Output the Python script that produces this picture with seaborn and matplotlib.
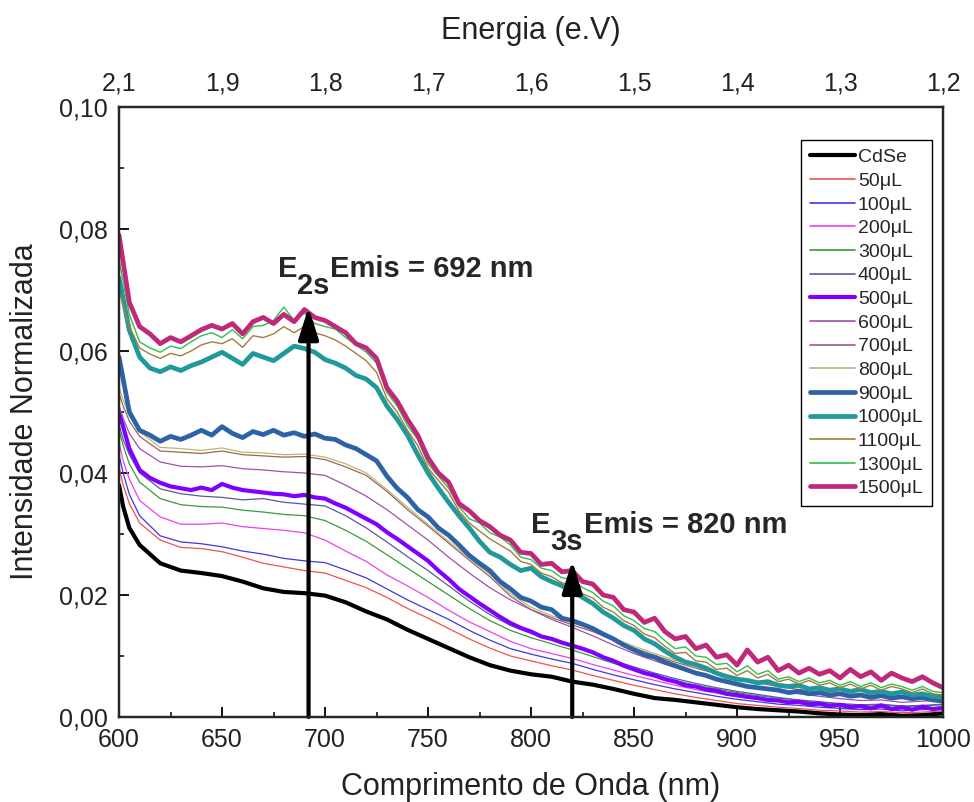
import numpy as np
import pandas as pd
import matplotlib
matplotlib.use("Agg")
import matplotlib.pyplot as plt
from matplotlib.lines import Line2D
import seaborn as sns

# ---------------- data ----------------
# coarse wavelength grid (thin, smoother curves)
wl = [600, 602, 605, 610, 620, 630, 640, 650, 660, 670, 680, 690, 700, 710, 720, 730,
      740, 750, 760, 770, 780, 790, 800, 810, 820, 830, 840, 850, 860, 870, 880, 890,
      900, 910, 920, 930, 940, 950, 960, 970, 980, 990, 1000]
# fine wavelength grid (noisy thick curves), 600..1000 every 5 nm
wl5 = list(range(600, 1001, 5))

series_names = ["CdSe", "50μL", "100μL", "200μL", "300μL", "400μL", "500μL", "600μL",
                "700μL", "800μL", "900μL", "1000μL", "1100μL", "1300μL", "1500μL"]

cdse = [0.0380, 0.0345, 0.0310, 0.0282, 0.0252, 0.0240, 0.0236, 0.0231, 0.0222, 0.0211, 0.0205,
        0.0203, 0.0199, 0.0188, 0.0173, 0.0160, 0.0143, 0.0128, 0.0113, 0.0098, 0.0085, 0.0076,
        0.0070, 0.0066, 0.0058, 0.0053, 0.0046, 0.0038, 0.0031, 0.0028, 0.0024, 0.0020, 0.0016,
        0.0013, 0.0011, 0.0009, 0.0006, 0.0004, 0.0003, 0.0005, 0.0002, 0.0003, 0.0006]
s50 = [0.0410, 0.0380, 0.0350, 0.0318, 0.0290, 0.0278, 0.0276, 0.0271, 0.0262, 0.0252, 0.0246,
       0.0240, 0.0236, 0.0224, 0.0212, 0.0196, 0.0178, 0.0162, 0.0145, 0.0128, 0.0113, 0.0100,
       0.0092, 0.0084, 0.0077, 0.0068, 0.0060, 0.0052, 0.0045, 0.0038, 0.0032, 0.0027, 0.0022,
       0.0019, 0.0016, 0.0014, 0.0011, 0.0010, 0.0008, 0.0009, 0.0007, 0.0008, 0.0010]
s100 = [0.0430, 0.0400, 0.0365, 0.0330, 0.0297, 0.0287, 0.0284, 0.0279, 0.0272, 0.0267, 0.0260,
        0.0256, 0.0253, 0.0241, 0.0228, 0.0210, 0.0192, 0.0176, 0.0160, 0.0142, 0.0126, 0.0112,
        0.0103, 0.0095, 0.0088, 0.0078, 0.0069, 0.0061, 0.0053, 0.0046, 0.0040, 0.0034, 0.0029,
        0.0025, 0.0021, 0.0019, 0.0016, 0.0014, 0.0012, 0.0013, 0.0010, 0.0012, 0.0013]
s200 = [0.0450, 0.0420, 0.0390, 0.0355, 0.0328, 0.0316, 0.0316, 0.0318, 0.0312, 0.0309, 0.0306,
        0.0302, 0.0290, 0.0272, 0.0255, 0.0233, 0.0215, 0.0196, 0.0175, 0.0156, 0.0140, 0.0124,
        0.0112, 0.0104, 0.0096, 0.0086, 0.0077, 0.0068, 0.0060, 0.0052, 0.0045, 0.0039, 0.0033,
        0.0029, 0.0026, 0.0022, 0.0019, 0.0017, 0.0015, 0.0016, 0.0013, 0.0014, 0.0016]
s300 = [0.0470, 0.0445, 0.0415, 0.0385, 0.0358, 0.0348, 0.0345, 0.0344, 0.0339, 0.0336, 0.0332,
        0.0330, 0.0322, 0.0306, 0.0288, 0.0266, 0.0244, 0.0222, 0.0200, 0.0178, 0.0158, 0.0142,
        0.0130, 0.0120, 0.0110, 0.0099, 0.0088, 0.0078, 0.0069, 0.0060, 0.0052, 0.0046, 0.0040,
        0.0035, 0.0031, 0.0027, 0.0024, 0.0021, 0.0019, 0.0020, 0.0017, 0.0018, 0.0020]
s400 = [0.0480, 0.0455, 0.0430, 0.0400, 0.0374, 0.0366, 0.0362, 0.0360, 0.0356, 0.0358, 0.0352,
        0.0349, 0.0346, 0.0330, 0.0310, 0.0287, 0.0263, 0.0240, 0.0215, 0.0190, 0.0168, 0.0150,
        0.0137, 0.0127, 0.0116, 0.0104, 0.0093, 0.0082, 0.0072, 0.0063, 0.0055, 0.0048, 0.0042,
        0.0037, 0.0032, 0.0028, 0.0025, 0.0022, 0.0020, 0.0021, 0.0018, 0.0019, 0.0021]
s500 = [0.0500, 0.0440, 0.0405, 0.0392, 0.0384, 0.0378, 0.0375, 0.0372, 0.0376, 0.0372, 0.0382,
        0.0376, 0.0372, 0.0370, 0.0368, 0.0366, 0.0365, 0.0362, 0.0364, 0.0360, 0.0358, 0.0350,
        0.0343, 0.0334, 0.0325, 0.0316, 0.0303, 0.0292, 0.0280, 0.0268, 0.0256, 0.0240, 0.0226,
        0.0210, 0.0198, 0.0186, 0.0175, 0.0164, 0.0154, 0.0146, 0.0140, 0.0132, 0.0128, 0.0122,
        0.0117, 0.0112, 0.0106, 0.0098, 0.0092, 0.0084, 0.0078, 0.0072, 0.0068, 0.0062, 0.0058,
        0.0052, 0.0050, 0.0045, 0.0043, 0.0038, 0.0036, 0.0033, 0.0031, 0.0028, 0.0027, 0.0024,
        0.0025, 0.0021, 0.0022, 0.0018, 0.0020, 0.0016, 0.0018, 0.0014, 0.0019, 0.0013, 0.0016,
        0.0012, 0.0017, 0.0013, 0.0015]
s600 = [0.0510, 0.0490, 0.0465, 0.0440, 0.0418, 0.0411, 0.0410, 0.0412, 0.0407, 0.0405, 0.0402,
        0.0400, 0.0396, 0.0380, 0.0362, 0.0340, 0.0315, 0.0290, 0.0262, 0.0236, 0.0212, 0.0192,
        0.0176, 0.0160, 0.0147, 0.0133, 0.0118, 0.0104, 0.0092, 0.0081, 0.0071, 0.0062, 0.0054,
        0.0048, 0.0043, 0.0038, 0.0034, 0.0030, 0.0027, 0.0028, 0.0024, 0.0026, 0.0027]
s700 = [0.0530, 0.0510, 0.0485, 0.0460, 0.0436, 0.0434, 0.0432, 0.0436, 0.0430, 0.0428, 0.0426,
        0.0427, 0.0422, 0.0410, 0.0396, 0.0370, 0.0340, 0.0313, 0.0285, 0.0257, 0.0230, 0.0198,
        0.0176, 0.0163, 0.0151, 0.0140, 0.0126, 0.0113, 0.0101, 0.0090, 0.0080, 0.0071, 0.0062,
        0.0056, 0.0050, 0.0045, 0.0041, 0.0037, 0.0034, 0.0035, 0.0031, 0.0033, 0.0034]
s800 = [0.0540, 0.0520, 0.0495, 0.0468, 0.0442, 0.0440, 0.0437, 0.0441, 0.0434, 0.0433, 0.0430,
        0.0431, 0.0426, 0.0415, 0.0400, 0.0373, 0.0344, 0.0316, 0.0288, 0.0260, 0.0234, 0.0202,
        0.0180, 0.0166, 0.0155, 0.0143, 0.0129, 0.0116, 0.0104, 0.0093, 0.0083, 0.0074, 0.0065,
        0.0059, 0.0053, 0.0048, 0.0044, 0.0040, 0.0037, 0.0038, 0.0034, 0.0036, 0.0037]
s900 = [0.0590, 0.0500, 0.0470, 0.0462, 0.0452, 0.0460, 0.0455, 0.0462, 0.0470, 0.0462, 0.0476,
        0.0465, 0.0458, 0.0468, 0.0463, 0.0470, 0.0462, 0.0466, 0.0460, 0.0464, 0.0457, 0.0455,
        0.0446, 0.0440, 0.0430, 0.0420, 0.0395, 0.0375, 0.0360, 0.0340, 0.0328, 0.0310, 0.0298,
        0.0282, 0.0265, 0.0252, 0.0240, 0.0222, 0.0210, 0.0196, 0.0190, 0.0180, 0.0176, 0.0162,
        0.0158, 0.0152, 0.0145, 0.0136, 0.0128, 0.0118, 0.0110, 0.0102, 0.0098, 0.0090, 0.0084,
        0.0078, 0.0072, 0.0068, 0.0062, 0.0058, 0.0054, 0.0050, 0.0048, 0.0046, 0.0044, 0.0040,
        0.0042, 0.0038, 0.0040, 0.0036, 0.0038, 0.0034, 0.0036, 0.0032, 0.0035, 0.0031, 0.0033,
        0.0030, 0.0032, 0.0028, 0.0026]
s1000 = [0.0720, 0.0634, 0.0590, 0.0572, 0.0566, 0.0574, 0.0568, 0.0576, 0.0582, 0.0590, 0.0598,
         0.0588, 0.0578, 0.0596, 0.0590, 0.0584, 0.0596, 0.0608, 0.0604, 0.0598, 0.0586, 0.0580,
         0.0572, 0.0560, 0.0554, 0.0540, 0.0510, 0.0488, 0.0462, 0.0430, 0.0400, 0.0375, 0.0352,
         0.0330, 0.0310, 0.0288, 0.0270, 0.0262, 0.0250, 0.0240, 0.0244, 0.0230, 0.0222, 0.0215,
         0.0206, 0.0196, 0.0186, 0.0172, 0.0162, 0.0150, 0.0142, 0.0128, 0.0120, 0.0108, 0.0098,
         0.0090, 0.0086, 0.0080, 0.0072, 0.0066, 0.0062, 0.0060, 0.0056, 0.0058, 0.0052, 0.0050,
         0.0052, 0.0046, 0.0048, 0.0044, 0.0046, 0.0042, 0.0045, 0.0040, 0.0042, 0.0038, 0.0041,
         0.0036, 0.0038, 0.0034, 0.0032]
s1100 = [0.0700, 0.0640, 0.0605, 0.0595, 0.0588, 0.0596, 0.0592, 0.0600, 0.0610, 0.0615, 0.0612,
         0.0620, 0.0606, 0.0625, 0.0622, 0.0628, 0.0640, 0.0630, 0.0640, 0.0630, 0.0625, 0.0618,
         0.0608, 0.0596, 0.0584, 0.0565, 0.0522, 0.0500, 0.0470, 0.0445, 0.0408, 0.0388, 0.0368,
         0.0338, 0.0318, 0.0305, 0.0292, 0.0282, 0.0272, 0.0255, 0.0250, 0.0236, 0.0230, 0.0220,
         0.0215, 0.0202, 0.0195, 0.0180, 0.0172, 0.0158, 0.0150, 0.0136, 0.0130, 0.0116, 0.0104,
         0.0106, 0.0092, 0.0090, 0.0078, 0.0080, 0.0068, 0.0076, 0.0064, 0.0070, 0.0058, 0.0062,
         0.0054, 0.0060, 0.0052, 0.0056, 0.0048, 0.0054, 0.0046, 0.0052, 0.0044, 0.0050, 0.0046,
         0.0040, 0.0046, 0.0038, 0.0036]
s1300 = [0.0750, 0.0660, 0.0615, 0.0605, 0.0598, 0.0608, 0.0604, 0.0615, 0.0625, 0.0630, 0.0622,
         0.0635, 0.0620, 0.0640, 0.0642, 0.0650, 0.0672, 0.0650, 0.0662, 0.0645, 0.0640, 0.0636,
         0.0622, 0.0610, 0.0598, 0.0580, 0.0532, 0.0510, 0.0478, 0.0455, 0.0415, 0.0395, 0.0375,
         0.0345, 0.0325, 0.0318, 0.0302, 0.0295, 0.0282, 0.0262, 0.0258, 0.0244, 0.0240, 0.0228,
         0.0226, 0.0212, 0.0204, 0.0190, 0.0182, 0.0166, 0.0158, 0.0145, 0.0140, 0.0125, 0.0112,
         0.0115, 0.0100, 0.0098, 0.0086, 0.0088, 0.0074, 0.0084, 0.0070, 0.0076, 0.0062, 0.0066,
         0.0058, 0.0064, 0.0056, 0.0060, 0.0052, 0.0058, 0.0050, 0.0056, 0.0048, 0.0054, 0.0050,
         0.0044, 0.0050, 0.0042, 0.0040]
s1500 = [0.0790, 0.0680, 0.0640, 0.0628, 0.0612, 0.0622, 0.0615, 0.0625, 0.0635, 0.0642, 0.0636,
         0.0645, 0.0628, 0.0648, 0.0655, 0.0645, 0.0660, 0.0648, 0.0668, 0.0655, 0.0650, 0.0640,
         0.0630, 0.0612, 0.0605, 0.0588, 0.0540, 0.0518, 0.0488, 0.0462, 0.0425, 0.0400, 0.0385,
         0.0350, 0.0338, 0.0322, 0.0312, 0.0298, 0.0290, 0.0270, 0.0268, 0.0250, 0.0252, 0.0238,
         0.0240, 0.0222, 0.0218, 0.0200, 0.0196, 0.0176, 0.0172, 0.0155, 0.0162, 0.0140, 0.0128,
         0.0132, 0.0112, 0.0118, 0.0098, 0.0102, 0.0085, 0.0110, 0.0090, 0.0098, 0.0076, 0.0085,
         0.0072, 0.0080, 0.0070, 0.0076, 0.0064, 0.0078, 0.0066, 0.0074, 0.0060, 0.0072, 0.0064,
         0.0058, 0.0066, 0.0056, 0.0048]

series_values = [cdse, s50, s100, s200, s300, s400, s500, s600, s700, s800, s900,
                 s1000, s1100, s1300, s1500]
series_grid = ["c", "c", "c", "c", "c", "c", "f", "c", "c", "c", "f", "f", "f", "f", "f"]

colors = ["#000000", "#f0524f", "#3a3ae0", "#ee40ee", "#3a9a3a", "#5a5a9a", "#8000ff",
          "#a050a8", "#a06060", "#b8b870", "#2d63a6", "#21999a", "#a77b3a", "#2fbf4f",
          "#c0287a"]
widths = [3.0, 0.9, 0.9, 0.9, 0.9, 0.9, 3.0, 0.9, 0.9, 0.9, 3.4, 3.4, 1.0, 1.0, 3.4]

x_ticks = [600, 650, 700, 750, 800, 850, 900, 950, 1000]
top_labels = ["2,1", "1,9", "1,8", "1,7", "1,6", "1,5", "1,4", "1,3", "1,2"]
y_ticks = [0.00, 0.02, 0.04, 0.06, 0.08, 0.10]
y_labels = ["0,00", "0,02", "0,04", "0,06", "0,08", "0,10"]

peak_wl = [692, 820]
peak_tip = [0.0672, 0.0256]
peak_sub = ["2s", "3s"]
peak_text = ["Emis = 692 nm", "Emis = 820 nm"]

# ---------------- build frame ----------------
rows = []
for name, vals, g in zip(series_names, series_values, series_grid):
    xs = wl if g == "c" else wl5
    assert len(xs) == len(vals), name
    for x, y in zip(xs, vals):
        rows.append((name, x, y))
df = pd.DataFrame(rows, columns=["serie", "wl", "val"])

sns.set_style("ticks")
plt.rcParams["font.family"] = ["Liberation Sans", "DejaVu Sans"]

fig = plt.figure(figsize=(9.74, 8.02), dpi=100)
ax = fig.add_axes([0.1222, 0.106, 0.846, 0.7606])

sns.lineplot(data=df, x="wl", y="val", hue="serie", size="serie",
             hue_order=series_names, size_order=series_names,
             palette=dict(zip(series_names, colors)),
             sizes=dict(zip(series_names, widths)),
             estimator=None, sort=False, legend=False, ax=ax)

ax.set_xlim(600, 1000)
ax.set_ylim(0, 0.10)
ax.set_xticks(x_ticks)
ax.set_xticklabels([str(v) for v in x_ticks])
ax.set_yticks(y_ticks)
ax.set_yticklabels(y_labels)
ax.set_xticks(np.arange(625, 1000, 50), minor=True)
ax.set_yticks(np.arange(0.01, 0.10, 0.02), minor=True)
ax.tick_params(axis="both", which="major", direction="in", length=7, width=1.3,
               labelsize=18, pad=8, colors="black", labelcolor="#222222")
ax.tick_params(axis="both", which="minor", direction="in", length=3.5, width=1.3)
for sp in ax.spines.values():
    sp.set_linewidth(1.6)
    sp.set_color("black")
    sp.set_visible(True)

ax.set_xlabel("Comprimento de Onda (nm)", fontsize=22, labelpad=14, color="#222222")
ax.set_ylabel("Intensidade Normalizada", fontsize=22, labelpad=14, color="#222222")

# top energy axis
axt = ax.twiny()
axt.set_xlim(ax.get_xlim())
axt.set_xticks(x_ticks)
axt.set_xticklabels(top_labels)
axt.tick_params(axis="x", length=0, labelsize=18, pad=8, labelcolor="#222222")
axt.set_xlabel("Energia (e.V)", fontsize=22, labelpad=24, color="#222222")
for sp in axt.spines.values():
    sp.set_linewidth(1.6)

# legend
handles = [Line2D([0], [0], color=c, lw=(w if w > 2 else 1.2))
           for c, w in zip(colors, widths)]
leg = ax.legend(handles, series_names, loc="upper right",
                bbox_to_anchor=(0.987, 0.946), borderaxespad=0,
                fontsize=14, labelspacing=0.31, handlelength=2.3,
                handletextpad=0.15, borderpad=0.45, frameon=True,
                fancybox=False, framealpha=1, edgecolor="black")
leg.get_frame().set_linewidth(1.0)

# annotations (arrows + labels)
for wlp, tip in zip(peak_wl, peak_tip):
    ax.annotate("", xy=(wlp, tip), xytext=(wlp, 0.0),
                arrowprops=dict(arrowstyle="-|>,head_length=0.7,head_width=0.22",
                                lw=3.0, color="black", mutation_scale=28,
                                shrinkA=0, shrinkB=0), zorder=10)

label_pos = [(677.0, 0.0721, 686.3, 0.0693, 702.4),
             (800.0, 0.0302, 809.3, 0.0274, 825.8)]
for (ex, ey, sx, sy, tx), sub, txt in zip(label_pos, peak_sub, peak_text):
    ax.text(ex, ey, "E", fontsize=21, fontweight="bold", va="baseline", ha="left")
    ax.text(sx, sy, sub, fontsize=21, fontweight="bold", va="baseline", ha="left")
    ax.text(tx, ey, txt, fontsize=21, fontweight="bold", va="baseline", ha="left")

fig.savefig("out.png", dpi=100, facecolor="white")
